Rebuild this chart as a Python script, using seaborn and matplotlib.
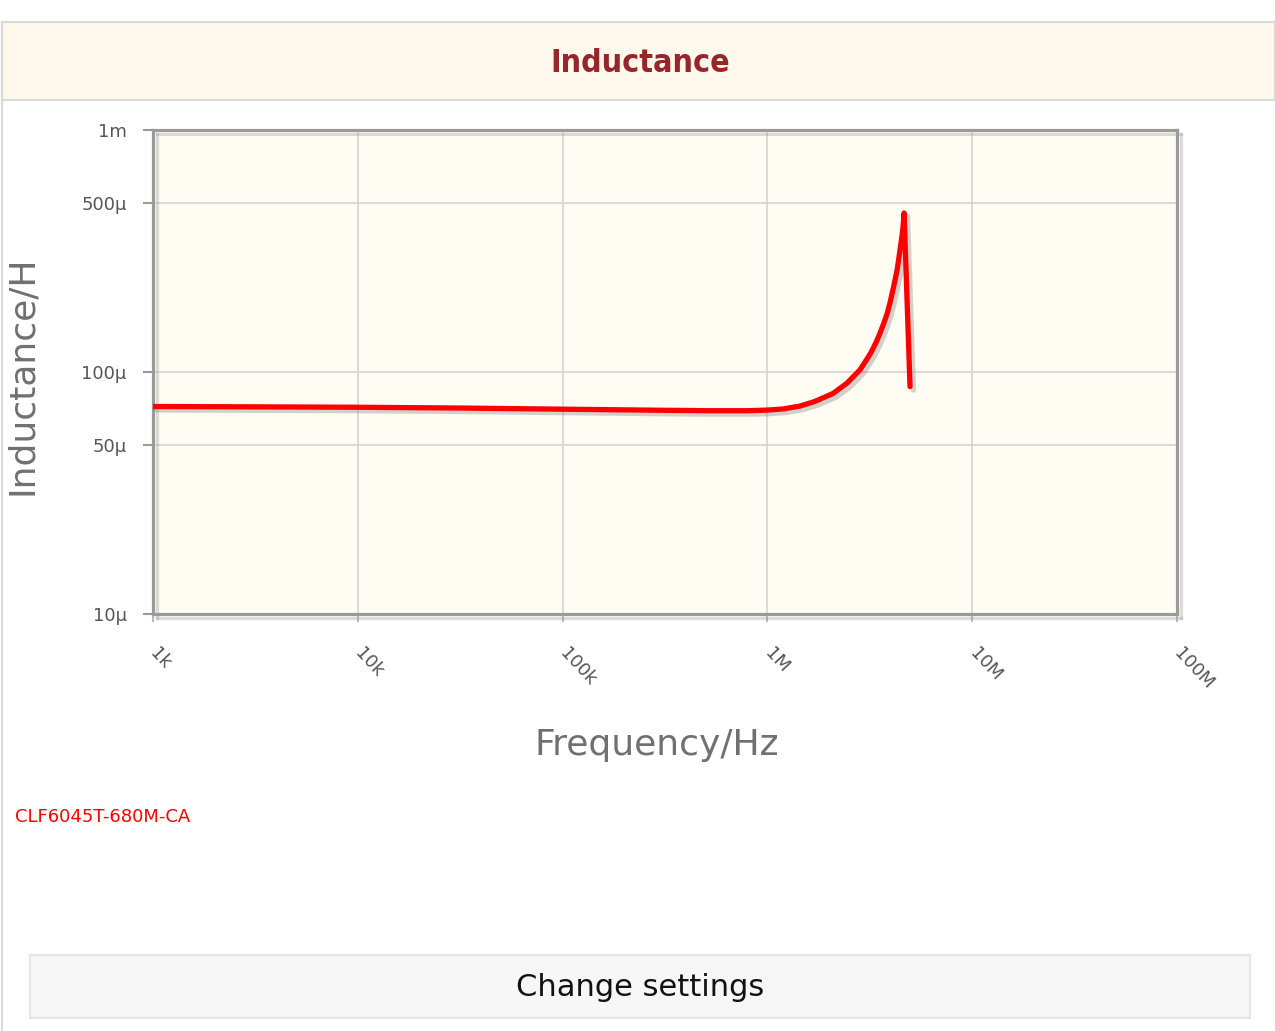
import numpy as np
import pandas as pd
import matplotlib
matplotlib.use("Agg")
import matplotlib.pyplot as plt
import matplotlib.patheffects as pe
from matplotlib.patches import Rectangle
from matplotlib.lines import Line2D
import seaborn as sns

# ---- data ----
freq_hz = [1e3, 3e3, 1e4, 3e4, 1e5, 3e5, 5e5, 8e5, 1e6, 1.2e6, 1.44e6, 1.7e6,
           2.09e6, 2.45e6, 2.83e6, 3.0e6, 3.2e6, 3.4e6, 3.55e6, 3.7e6, 3.85e6,
           3.98e6, 4.1e6, 4.2e6, 4.3e6, 4.37e6, 4.44e6, 4.5e6, 4.56e6, 4.61e6,
           4.65e6, 4.97e6]
inductance_h = [72e-6, 71.8e-6, 71.5e-6, 71e-6, 70.2e-6, 69.5e-6, 69.2e-6, 69.2e-6,
                69.6e-6, 70.4e-6, 72.3e-6, 75.5e-6, 81.5e-6, 90e-6, 102e-6, 110e-6,
                120e-6, 133e-6, 145e-6, 159e-6, 175e-6, 195e-6, 218e-6, 240e-6,
                264e-6, 290e-6, 319e-6, 345e-6, 375e-6, 410e-6, 454e-6, 87e-6]
part_name = "CLF6045T-680M-CA"

x_ticks = [1e3, 1e4, 1e5, 1e6, 1e7, 1e8]
x_tick_labels = ["1k", "10k", "100k", "1M", "10M", "100M"]
y_ticks = [1e-5, 5e-5, 1e-4, 5e-4, 1e-3]
y_tick_labels = ["10µ", "50µ", "100µ", "500µ", "1m"]

df = pd.DataFrame({"Frequency": freq_hz, "Inductance": inductance_h})

sns.set_theme(style="white")
plt.rcParams["font.family"] = ["DejaVu Sans"]

W, H = 1275, 1031
fig = plt.figure(figsize=(W / 100, H / 100), dpi=100, facecolor="white")

# header band
fig.add_artist(Rectangle((2 / W, 1 - 100 / H), 1 - 2 / W, 78 / H,
                         transform=fig.transFigure, facecolor="#fef9ec",
                         edgecolor="#d9d9d9", linewidth=1.5, zorder=0))
fig.add_artist(Line2D([2 / W, 2 / W], [0, 1 - 22 / H], transform=fig.transFigure,
                      color="#d9d9d9", linewidth=1.5))
fig.text(640 / W, 1 - 63 / H, "Inductance", ha="center", va="center",
         fontsize=23, fontweight="bold", color="#96262a", fontstretch="condensed")

# plot axes
ax = fig.add_axes([153 / W, 1 - 614 / H, 1024 / W, 484 / H])
ax.set_facecolor("#fffcf4")

sns.lineplot(data=df, x="Frequency", y="Inductance", ax=ax, color="#ff0000",
             linewidth=3.8, sort=False, zorder=5,
             path_effects=[pe.SimpleLineShadow(offset=(2.5, -2.5), shadow_color="#808080", alpha=0.35),
                           pe.Normal()])
ax.lines[0].set_solid_capstyle("round")
ax.lines[0].set_solid_joinstyle("round")

ax.set_xscale("log")
ax.set_yscale("log")
ax.set_xlim(1e3, 1e8)
ax.set_ylim(1e-5, 1e-3)
ax.set_xticks(x_ticks)
ax.set_xticklabels(x_tick_labels)
ax.set_yticks(y_ticks)
ax.set_yticklabels(y_tick_labels)
ax.minorticks_off()

ax.grid(True, color="#d4d4d4", linewidth=1.2)
ax.set_axisbelow(True)

for s in ax.spines.values():
    s.set_visible(True)
    s.set_color("#9a9a9a")
    s.set_linewidth(2.3)
    s.set_path_effects([pe.SimpleLineShadow(offset=(3, -3), shadow_color="#999999", alpha=0.35),
                        pe.Normal()])

ax.tick_params(axis="y", which="major", direction="out", length=7, width=1.5,
               color="#9a9a9a", labelsize=13, labelcolor="#555555", pad=12, left=True)
ax.tick_params(axis="x", which="major", direction="out", length=6, width=1.5,
               color="#bbbbbb", labelsize=13, labelcolor="#555555", pad=20, bottom=True)
for lab in ax.get_xticklabels():
    lab.set_rotation(-47)
    lab.set_rotation_mode("anchor")
    lab.set_ha("left")
    lab.set_va("center")

ax.set_xlabel("Frequency/Hz", fontsize=26, color="#707070")
ax.set_ylabel("Inductance/H", fontsize=26, color="#707070")
ax.xaxis.set_label_coords((657 - 153) / 1024, -(745 - 614) / 484)
ax.xaxis.label.set_va("center")
ax.yaxis.set_label_coords((22 - 153) / 1024, (614 - 375) / 484)
ax.yaxis.label.set_va("center")

# part name
fig.text(15 / W, 1 - 817 / H, part_name, ha="left", va="center",
         fontsize=13, color="#ff0000")

# button
fig.add_artist(Rectangle((30 / W, 1 - 1018 / H), 1220 / W, 63 / H,
                         transform=fig.transFigure, facecolor="#f6f6f6",
                         edgecolor="#e6e6e6", linewidth=1.5))
fig.text(640 / W, 1 - 988 / H, "Change settings", ha="center", va="center",
         fontsize=22, color="#111111")

fig.savefig("out.png", dpi=100, facecolor="white")
